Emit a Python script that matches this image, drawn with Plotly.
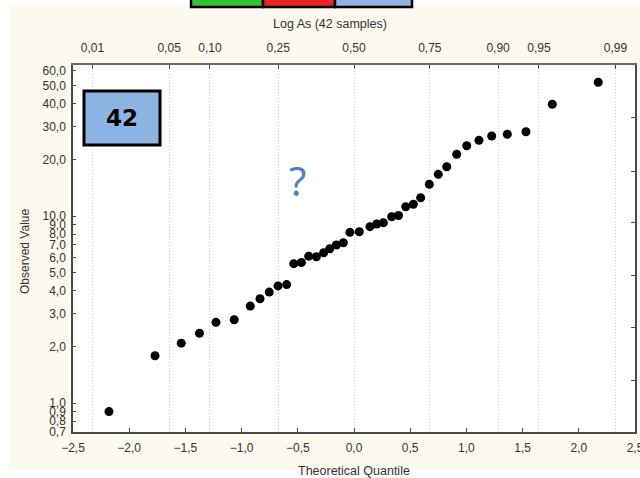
import math
from statistics import NormalDist
import plotly.graph_objects as go

# ---------------- data ----------------
theoretical_quantile = [
    -2.18, -1.77, -1.537, -1.375, -1.228, -1.066, -0.923, -0.836, -0.754, -0.676,
    -0.599, -0.536, -0.468, -0.403, -0.335, -0.270, -0.216, -0.157, -0.095, -0.036,
    0.047, 0.142, 0.202, 0.261, 0.335, 0.396, 0.460, 0.528, 0.593, 0.670,
    0.750, 0.825, 0.914, 1.003, 1.112, 1.225, 1.364, 1.530, 1.764, 2.173,
]
observed_value = [
    0.90, 1.79, 2.09, 2.36, 2.70, 2.79, 3.30, 3.61, 3.92, 4.23,
    4.30, 5.56, 5.64, 6.10, 6.06, 6.36, 6.68, 7.00, 7.20, 8.18,
    8.24, 8.77, 9.06, 9.21, 9.91, 10.06, 11.21, 11.56, 12.53, 14.77,
    16.71, 18.35, 21.38, 23.77, 25.40, 26.78, 27.35, 28.24, 39.57, 51.9,
]
x_ticks = [-2.5, -2.0, -1.5, -1.0, -0.5, 0.0, 0.5, 1.0, 1.5, 2.0, 2.5]
y_ticks = [0.7, 0.8, 0.9, 1, 2, 3, 4, 5, 6, 7, 8, 9, 10, 20, 30, 40, 50, 60]
prob_values = [0.01, 0.05, 0.10, 0.25, 0.50, 0.75, 0.90, 0.95, 0.99]
prob_labels = ["0,01", "0,05", "0,10", "0,25", "0,50", "0,75", "0,90", "0,95", "0,99"]
right_ticks = [52, 104.5, 157, 210, 261, 315]
box_label = "42"
top_title = "Log As (42 samples)"
x_title = "Theoretical Quantile"
y_title = "Observed Value"

prob_positions = [NormalDist().inv_cdf(p) for p in prob_values]

# ---------------- geometry helpers (pixels -> paper) ----------------
W, H = 640, 478
L, R, T, B = 73, 635, 65, 432


def px(x):
    return (x - L) / (R - L)


def py(y):
    return (B - y) / (B - T)


FONT = "Liberation Sans, Arial, sans-serif"
TXT = "#333333"
AX = "#4a4a4a"
Y_RANGE = [math.log10(0.7), math.log10(64.2)]

fig = go.Figure()
fig.add_trace(go.Scatter(
    x=theoretical_quantile, y=observed_value, mode="markers",
    marker=dict(color="black", size=9, line=dict(width=0)),
    showlegend=False, hoverinfo="x+y",
))
# invisible helpers so that the top probability axis and right axis are drawn
fig.add_trace(go.Scatter(x=[0], y=[1], xaxis="x2", yaxis="y", mode="markers",
                         marker=dict(opacity=0), showlegend=False, hoverinfo="skip"))
fig.add_trace(go.Scatter(x=[0], y=[100], xaxis="x", yaxis="y2", mode="markers",
                         marker=dict(opacity=0), showlegend=False, hoverinfo="skip"))

shapes = [
    dict(type="rect", xref="paper", yref="paper", layer="below",
         x0=px(9), x1=px(645), y0=py(470), y1=py(5),
         fillcolor="#fcf9ee", line=dict(width=0)),
    dict(type="rect", xref="paper", yref="paper", layer="below",
         x0=0, x1=1, y0=0, y1=1, fillcolor="white", line=dict(width=0)),
    dict(type="rect", xref="paper", yref="paper", x0=px(191), x1=px(263),
         y0=py(7), y1=py(-4), fillcolor="#33c433", line=dict(color="black", width=2.5)),
    dict(type="rect", xref="paper", yref="paper", x0=px(263), x1=px(335),
         y0=py(7), y1=py(-4), fillcolor="#ee2424", line=dict(color="black", width=2.5)),
    dict(type="rect", xref="paper", yref="paper", x0=px(335), x1=px(412),
         y0=py(7), y1=py(-4), fillcolor="#8db4e2", line=dict(color="black", width=2.5)),
    dict(type="rect", xref="paper", yref="paper", x0=px(84), x1=px(160),
         y0=py(145), y1=py(91), fillcolor="#8db4e2", line=dict(color="black", width=3)),
]


def ann(text, x, y, size, color, family=FONT, angle=0):
    return dict(text=text, xref="paper", yref="paper", x=px(x), y=py(y),
                xanchor="center", yanchor="middle", showarrow=False, textangle=angle,
                font=dict(family=family, size=size, color=color))


annotations = [
    ann(f"<b>{box_label}</b>", 122, 118, 23, "black", "DejaVu Sans, Arial"),
    ann("?", 297, 180, 40, "#4f81bd", "Noto Sans, Arial"),
    ann(top_title, 330, 24, 12.5, TXT),
    ann(x_title, 354, 471, 12.5, TXT),
    ann(y_title, 25, 252, 12, TXT, angle=-90),
]

tickfont = dict(family=FONT, size=12, color=TXT)

fig.update_layout(
    width=W, height=H,
    margin=dict(l=L, r=W - R, t=T, b=H - B, pad=0, autoexpand=False),
    paper_bgcolor="white", plot_bgcolor="rgba(0,0,0,0)",
    separators=",.",
    font=dict(family=FONT, size=12, color=TXT),
    shapes=shapes, annotations=annotations,
    xaxis=dict(
        range=[-2.5, 2.5], tickvals=x_ticks, tickformat=".1f",
        ticks="inside", ticklen=4, tickcolor=AX, tickwidth=1,
        showline=True, linecolor=AX, linewidth=1.5,
        showgrid=False, zeroline=False, ticklabelstandoff=4, tickfont=tickfont,
        ticklabeloverflow="allow", automargin=False,
    ),
    xaxis2=dict(
        overlaying="x", side="top", range=[-2.5, 2.5], anchor="y",
        tickvals=prob_positions, ticktext=prob_labels,
        ticks="inside", ticklen=4, tickcolor=AX, tickwidth=1,
        showline=True, linecolor="#6a6a6a", linewidth=1.5,
        showgrid=True, gridcolor="#cfcfcf", griddash="1px,2px", gridwidth=1,
        zeroline=False, ticklabelstandoff=6, tickfont=tickfont,
        ticklabeloverflow="allow", automargin=False,
    ),
    yaxis=dict(
        type="log", range=Y_RANGE, tickvals=y_ticks, tickformat=".1f",
        ticks="inside", ticklen=3, tickcolor=AX, tickwidth=1,
        showline=True, linecolor=AX, linewidth=1.5,
        showgrid=False, zeroline=False, ticklabelstandoff=3, tickfont=tickfont,
        automargin=False,
    ),
    yaxis2=dict(
        overlaying="y", side="right", range=[0, 367], anchor="x",
        tickvals=right_ticks, showticklabels=False,
        ticks="inside", ticklen=4, tickcolor=AX,
        showline=True, linecolor=AX, linewidth=1.5,
        showgrid=False, zeroline=False, automargin=False,
    ),
)

fig.write_html("out.html")
